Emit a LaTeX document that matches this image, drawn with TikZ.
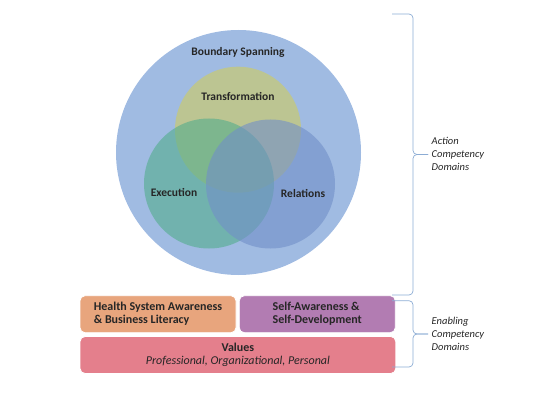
\documentclass[tikz,border=0pt]{standalone}
\usepackage{fontspec}
\setmainfont{Carlito}
\usepackage{xcolor}
\usepackage{tikz}
\usetikzlibrary{positioning}

\definecolor{spanblue}{RGB}{160,187,226}
\definecolor{transyellow}{RGB}{207,204,94}
\definecolor{execgreen}{RGB}{83,173,140}
\definecolor{relblue}{RGB}{113,143,200}
\definecolor{hsaorange}{RGB}{232,165,125}
\definecolor{selfpurple}{RGB}{178,124,178}
\definecolor{valpink}{RGB}{228,127,140}
\definecolor{bracecol}{RGB}{140,172,212}

\tikzset{
  venn/.style={circle, inner sep=0pt, fill opacity=0.6},
  lbl/.style={font=\bfseries\fontsize{11.5}{13}\selectfont, text=black!85},
  domainbox/.style={rounded corners=5pt, draw=white, line width=0.8pt,
    minimum height=37pt, inner sep=0pt,
    font=\bfseries\fontsize{12}{13}\selectfont, text=black!85},
  side/.style={font=\itshape\fontsize{10.5}{13}\selectfont, align=left,
    text=black!85, anchor=west, inner sep=0pt},
  bracket/.style={draw=bracecol, line width=0.7pt, rounded corners=4pt}
}

\begin{document}
\begin{tikzpicture}[x=1pt, y=-1pt]
\useasboundingbox (0,0) rectangle (547,404);
% circles
\node[venn, fill=spanblue, fill opacity=1, minimum size=245pt] (span) at (238.5,152.5) {};
\node[venn, fill=transyellow, minimum size=126pt] (trans) at (238,129.7) {};
\node[venn, fill=execgreen, minimum size=130pt] (exec) at (209,183.5) {};
\node[venn, fill=relblue, minimum size=129pt] (rel) at (270.5,184) {};
\node[lbl] (spanlbl) at (238,52) {Boundary Spanning};
\node[lbl] (translbl) at (238,96) {Transformation};
\node[lbl] (execlbl) at (174,192) {Execution};
\node[lbl] (rellbl) at (303,193) {Relations};
% boxes
\node[domainbox, fill=hsaorange, minimum width=156pt, align=left] (hsa) at (158,314.2)
  {Health System Awareness\\\& Business Literacy};
\node[domainbox, fill=selfpurple, minimum width=156pt, align=left] (self) at (317.3,314.2)
  {Self-Awareness \&\\Self-Development};
\node[domainbox, fill=valpink, minimum width=315.7pt, align=center] (val) at (237.9,355)
  {Values\\{\mdseries\itshape Professional, Organizational, Personal}};
% braces
\coordinate (acttop) at (392,14);
\coordinate (actbot) at (392,295);
\coordinate (acttip) at (428,154.5);
\coordinate (entop) at (392,300.7);
\coordinate (enbot) at (392,367);
\coordinate (entip) at (428,334);
\draw[bracket] (acttop) -- (413,14) -- (413,154.5) -- (acttip);
\draw[bracket] (actbot) -- (413,295) -- (413,154.5) -- (acttip);
\draw[bracket] (entop) -- (413,300.7) -- (413,334) -- (entip);
\draw[bracket] (enbot) -- (413,367) -- (413,334) -- (entip);
\node[side] (actlbl) at (431.5,153.5) {Action\\Competency\\Domains};
\node[side] (enlbl) at (431.5,333.5) {Enabling\\Competency\\Domains};
\end{tikzpicture}
\end{document}
